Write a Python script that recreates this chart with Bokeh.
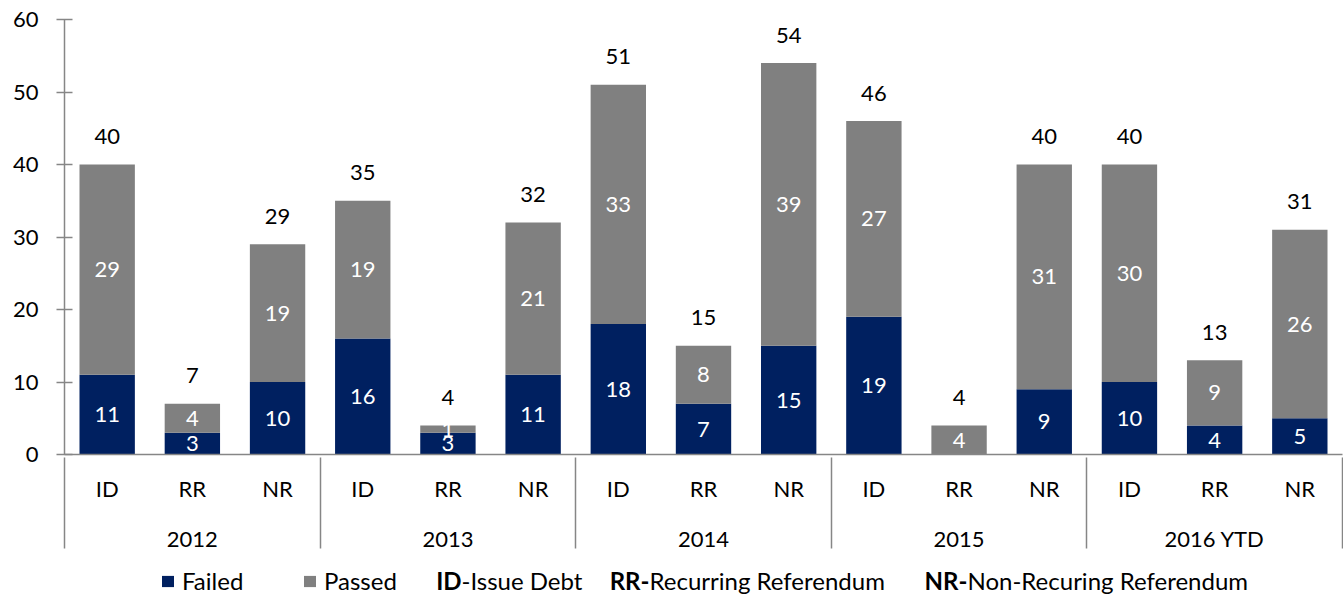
from bokeh.plotting import figure
from bokeh.layouts import column
from bokeh.models import (FactorRange, Range1d, ColumnDataSource, Legend, LegendItem,
                          Label, FixedTicker)
from bokeh.core.properties import value
from bokeh.embed import file_html
from bokeh.resources import INLINE

# ---------------- data ----------------
years = ["2012", "2013", "2014", "2015", "2016 YTD"]
types = ["ID", "RR", "NR"]
failed = [11, 3, 10, 16, 3, 11, 18, 7, 15, 19, 0, 9, 10, 4, 5]
passed = [29, 4, 19, 19, 1, 21, 33, 8, 39, 27, 4, 31, 30, 9, 26]
series_names = ["Failed", "Passed"]
y_ticks = [0, 10, 20, 30, 40, 50, 60]
note_bold = ["ID", "RR-", "NR-"]
note_rest = ["-Issue Debt", "Recurring Referendum", "Non-Recuring Referendum"]

# ---------------- styles ----------------
NAVY = "#002060"
GRAY = "#808080"
AXIS = "#868686"
FONT = "Lato"
FS = "22px"
LFS = "24px"

factors = [(y, t) for y in years for t in types]
totals = [f + p for f, p in zip(failed, passed)]

src = ColumnDataSource(dict(x=factors, Failed=failed, Passed=passed,
                            total=totals, total_txt=[str(t) for t in totals]))

fx, fy, ft = [], [], []
px_, py, pt = [], [], []
for fac, f, p_ in zip(factors, failed, passed):
    if f > 0:
        fx.append(fac); fy.append(f / 2); ft.append(str(f))
    if p_ > 0:
        px_.append(fac); py.append(f + p_ / 2); pt.append(str(p_))
seg_src = ColumnDataSource(dict(x=fx + px_, y=fy + py, t=ft + pt))

# blank edge groups (kept just outside the visible range) so that the axis
# draws group separators at both outer edges as well
axis_factors = [(" ", " ")] + factors + [("  ", "  ")]

W, H1, H2 = 1343, 560, 36
p = figure(x_range=FactorRange(factors=axis_factors, group_padding=0, factor_padding=0,
                               range_padding=-0.999, range_padding_units="absolute"),
           y_range=Range1d(0, 60), width=W, height=H1,
           output_backend="svg", toolbar_location=None,
           min_border_left=64, min_border_right=1, min_border_top=19,
           min_border_bottom=106)

rs = p.vbar_stack(series_names, x="x", width=0.65, source=src,
                  color=[NAVY, GRAY], line_width=0)

p.text(x="x", y="total", text="total_txt", source=src, text_align="center",
       text_baseline="middle", y_offset=-28, text_font=value(FONT),
       text_font_size=value(FS), text_color="black")
p.text(x="x", y="y", text="t", source=seg_src, text_align="center",
       text_baseline="middle", text_font=value(FONT),
       text_font_size=value(FS), text_color="white")

# axes
p.xgrid.visible = False
p.ygrid.visible = False
p.outline_line_color = None

ya = p.yaxis[0]
ya.ticker = FixedTicker(ticks=y_ticks)
ya.minor_tick_line_color = None
ya.major_tick_in = 8
ya.major_tick_out = 8
ya.axis_line_color = AXIS
ya.major_tick_line_color = AXIS
ya.axis_line_width = 1.5
ya.major_tick_line_width = 1.5
ya.major_label_standoff = 18
ya.major_label_text_font = FONT
ya.major_label_text_font_size = FS
ya.major_label_text_color = "black"

xa = p.xaxis[0]
xa.major_tick_line_color = None
xa.major_tick_in = 0
xa.major_tick_out = 0
xa.axis_line_color = AXIS
xa.axis_line_width = 1.5
xa.major_label_standoff = 20
xa.major_label_text_font = FONT
xa.major_label_text_font_size = FS
xa.major_label_text_color = "black"
xa.group_text_font = FONT
xa.group_text_font_size = FS
xa.group_text_color = "black"
xa.group_text_font_style = "normal"
xa.separator_line_color = AXIS
xa.separator_line_width = 1.5

# ---------------- legend strip ----------------
p2 = figure(width=W, height=H2, x_range=Range1d(0, W), y_range=Range1d(0, H2),
            output_backend="svg", toolbar_location=None, x_axis_type=None,
            y_axis_type=None, min_border=0, outline_line_color=None)
p2.xgrid.visible = False
p2.ygrid.visible = False
leg_r = [p2.vbar(x=[0], bottom=[0], top=[0], width=0, color=c, line_width=0)
         for c in (NAVY, GRAY)]
legend = Legend(items=[LegendItem(label=n, renderers=[r]) for n, r in zip(series_names, leg_r)],
                orientation="horizontal", location=(96, 1),
                glyph_width=15, glyph_height=14, label_standoff=7, label_width=100,
                spacing=20, padding=0, margin=0, border_line_color=None,
                background_fill_alpha=0, label_text_font=FONT,
                label_text_font_size=LFS, label_text_color="black")
p2.add_layout(legend, "center")

# frame of the strip is aligned with the chart frame (left edge at 64px)
note_x = [397, 585, 903]
for x, b, r in zip(note_x, note_bold, note_rest):
    p2.add_layout(Label(x=x, y=16, x_units="screen", y_units="screen", text=b,
                        text_align="right", text_baseline="middle", text_font=FONT,
                        text_font_size=LFS, text_font_style="bold", text_color="black"))
    p2.add_layout(Label(x=x, y=16, x_units="screen", y_units="screen", text=r,
                        text_align="left", text_baseline="middle", text_font=FONT,
                        text_font_size=LFS, text_color="black"))

layout = column(p, p2, spacing=0)
open("out.html", "w").write(file_html(layout, INLINE))
